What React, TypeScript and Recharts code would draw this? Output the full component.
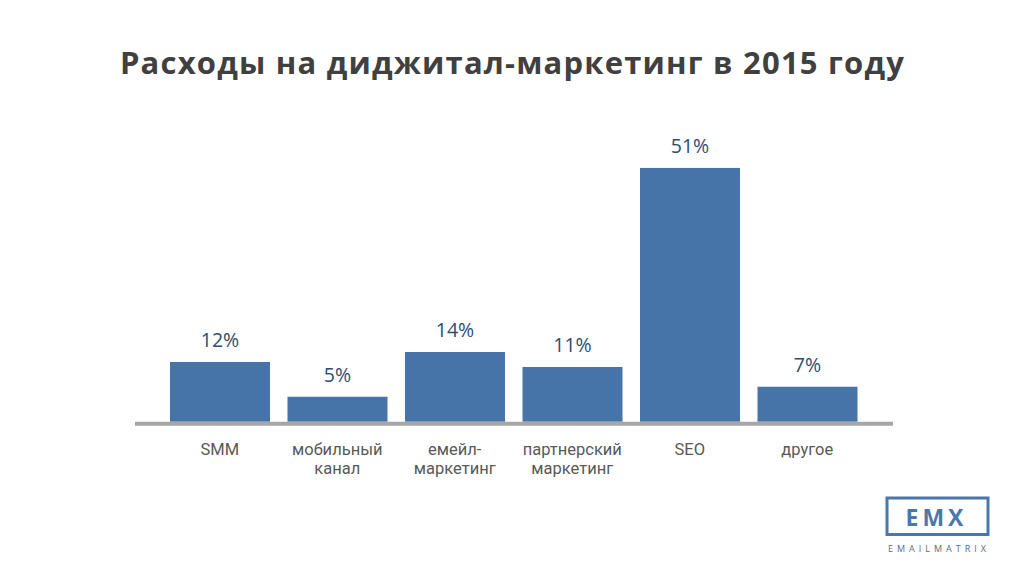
import React from "react";
import { BarChart, Bar, XAxis, YAxis, LabelList } from "recharts";

const categories: string[][] = [
  ["SMM"],
  ["мобильный", "канал"],
  ["емейл-", "маркетинг"],
  ["партнерский", "маркетинг"],
  ["SEO"],
  ["другое"],
];
const shares: number[] = [12, 5, 14, 11, 51, 7];
const shareLabels: string[] = ["12%", "5%", "14%", "11%", "51%", "7%"];

const titleText = "Расходы на диджитал-маркетинг в 2015 году";

const data = categories.map((c, i) => ({
  name: c.join(" "),
  lines: c,
  value: shares[i],
  label: shareLabels[i],
}));

const FONT = "'Open Sans', 'Noto Sans', sans-serif";
const TICK_FONT = "Roboto, 'Open Sans', sans-serif";

const Tick = (props: any) => {
  const { x, y, payload } = props;
  const item = data.find((d) => d.name === payload.value);
  const lines = item ? item.lines : [String(payload.value)];
  return (
    <g>
      {lines.map((l, i) => (
        <text
          key={i}
          x={x}
          y={y + 31.5 + i * 19}
          textAnchor="middle"
          fill="#595959"
          fontFamily={TICK_FONT}
          fontSize={16.5}
        >
          {l}
        </text>
      ))}
    </g>
  );
};

export default function App() {
  return (
    <div
      style={{
        position: "absolute",
        left: 0,
        top: 0,
        width: 1024,
        height: 579,
        background: "#ffffff",
      }}
    >
      <BarChart
        width={1024}
        height={579}
        data={data}
        margin={{ top: 167.7, right: 131, bottom: 95.3, left: 135 }}
      >
        <YAxis hide domain={[-0.4, 51]} allowDataOverflow />
        <Bar
          dataKey="value"
          fill="#4674a9"
          barSize={100}
          isAnimationActive={false}
        >
          <LabelList
            dataKey="label"
            position="top"
            offset={15}
            fill="#2e4d72"
            fontFamily={FONT}
            fontSize={19.5}
          />
        </Bar>
        <XAxis
          dataKey="name"
          interval={0}
          height={60}
          padding={{ left: 26, right: 27 }}
          axisLine={{ stroke: "#a6a6a6", strokeWidth: 4 }}
          tickLine={false}
          tickSize={0}
          tickMargin={0}
          tick={<Tick />}
        />
      </BarChart>
      <svg
        width={1024}
        height={579}
        style={{ position: "absolute", left: 0, top: 0, pointerEvents: "none" }}
      >
        <text
          x={512.5}
          y={74.3}
          textAnchor="middle"
          fontFamily={FONT}
          fontWeight={700}
          fontSize={31}
          letterSpacing={1.2}
          fill="#404040"
        >
          {titleText}
        </text>
        <rect
          x={887}
          y={498}
          width={101}
          height={36.5}
          fill="none"
          stroke="#4a78ad"
          strokeWidth={3}
        />
        <text
          x={936.5}
          y={526}
          textAnchor="middle"
          fontFamily={FONT}
          fontWeight={700}
          fontSize={23}
          letterSpacing={4}
          fill="#4a78ad"
        >
          EMX
        </text>
        <text
          x={939}
          y={552}
          textAnchor="middle"
          fontFamily={FONT}
          fontSize={9}
          letterSpacing={4}
          fill="#5b6b80"
        >
          EMAILMATRIX
        </text>
      </svg>
    </div>
  );
}
